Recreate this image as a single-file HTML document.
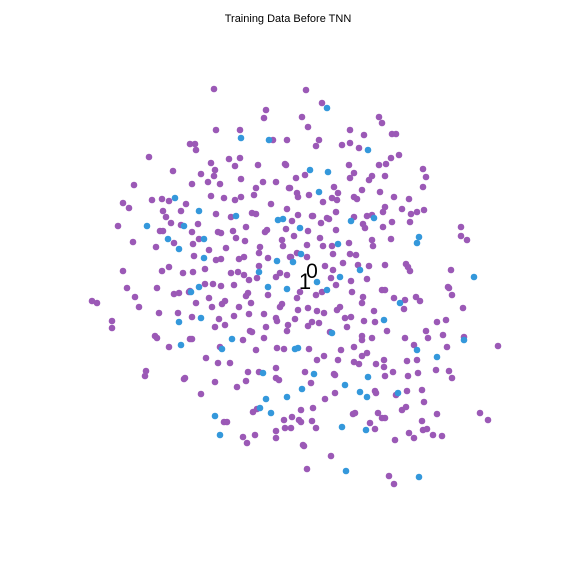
<!DOCTYPE html>
<html><head><meta charset="utf-8"><style>
html,body{margin:0;padding:0;background:#fff;}
svg{display:block;font-family:"Liberation Sans",sans-serif;}
</style></head><body>
<svg id="chart" width="576" height="576" viewBox="0 0 576 576" xmlns="http://www.w3.org/2000/svg">
<text x="288" y="22" text-anchor="middle" font-size="11" fill="#000">Training Data Before TNN</text>
<g id="points"></g>
<text x="312" y="278" text-anchor="middle" font-size="21" fill="#000">0</text>
<text x="305" y="289" text-anchor="middle" font-size="22" fill="#000">1</text>
</svg>
<script>
// class 1 (purple) points: x and y in embedding units
const purpleX = [214,266,264,216,240,273,287,190,195,196,149,211,229,240,235,258,285,173,215,201,214,134,192,208,220,241,263,276,289,256,123,129,152,162,169,186,211,224,235,241,254,271,287,163,181,216,252,256,118,166,171,181,198,231,246,286,160,163,192,218,221,233,265,267,282,133,174,199,236,245,193,156,209,226,260,283,194,216,221,239,244,259,268,290,123,162,169,183,193,205,231,238,259,244,249,257,276,280,287,127,157,190,205,213,221,234,174,179,189,246,248,268,92,97,135,139,196,209,212,222,225,239,251,280,282,112,112,159,178,192,219,215,225,234,249,264,276,277,266,250,252,287,155,157,169,190,192,243,264,220,256,277,284,206,218,230,146,145,184,185,215,248,259,276,276,279,246,237,201,253,257,224,227,284,291,243,255,247,276,276,306,322,302,308,379,382,350,364,392,396,319,316,342,350,359,391,399,286,349,386,379,305,296,354,350,372,369,385,423,426,423,290,297,298,309,334,338,362,380,323,332,337,354,357,394,409,298,312,313,321,327,329,336,354,367,372,363,365,383,385,402,411,417,424,410,392,383,292,308,336,461,461,467,294,320,372,373,391,307,323,332,349,291,297,307,333,350,356,343,325,333,358,369,385,406,408,410,451,331,351,367,336,448,300,297,316,322,352,363,382,385,394,405,416,420,449,452,463,298,308,317,324,337,340,362,374,404,426,288,295,308,312,319,345,351,364,375,437,446,464,330,347,362,362,372,387,405,414,428,443,447,498,309,341,354,367,362,407,417,317,324,338,354,359,376,384,384,393,436,449,452,311,305,334,335,385,408,418,422,325,335,375,376,396,407,424,313,301,353,355,378,402,406,437,480,488,285,292,299,301,312,316,370,375,382,385,422,423,427,433,442,409,414,395,303,304,331,307,389,394,392];
const purpleY = [89,110,118,130,130,140,140,144,144,150,157,163,159,158,166,165,164,171,170,174,176,185,184,182,184,179,182,182,188,188,203,208,200,199,201,204,196,198,200,197,195,204,209,211,211,214,213,214,226,217,223,225,224,217,227,229,231,231,232,232,233,231,232,230,240,242,243,239,238,241,244,247,250,248,247,246,256,260,259,259,257,253,258,257,271,271,267,273,272,269,273,272,266,275,280,278,277,273,275,288,288,291,284,284,286,285,294,293,292,296,293,295,301,303,297,307,303,298,307,304,301,307,303,307,304,321,328,313,313,317,319,327,325,316,314,314,318,321,327,331,332,331,336,338,347,339,339,340,338,347,350,348,349,358,363,363,371,376,379,378,382,372,372,368,378,380,381,387,394,412,409,422,422,420,428,437,435,443,431,438,90,103,117,127,117,123,130,135,134,134,140,146,145,143,148,158,155,165,165,164,165,175,178,173,178,176,180,176,169,177,187,188,193,197,195,187,193,190,192,202,198,200,197,199,197,199,215,216,216,223,218,219,212,217,216,215,224,228,212,207,209,214,212,210,222,222,227,221,231,230,227,236,240,236,238,240,246,239,245,246,246,243,257,253,257,254,254,255,263,266,270,265,266,265,264,267,271,270,278,281,279,285,287,292,298,295,292,292,297,290,290,298,300,297,301,288,295,308,310,308,311,313,310,307,303,311,309,331,325,319,326,322,323,318,317,321,322,322,320,337,332,327,336,340,338,331,338,345,338,335,347,346,349,350,347,353,356,361,360,360,356,360,362,364,364,360,367,372,370,371,378,383,372,374,375,376,376,373,390,399,393,391,393,395,391,402,408,410,414,413,413,410,407,414,413,420,428,417,420,422,421,428,423,429,418,418,421,430,429,435,436,433,438,440,445,446,456,469,476,484];
// class 0 (blue) points
const blueX = [241,269,175,199,147,184,236,278,283,168,204,179,204,277,259,199,268,287,191,179,201,181,232,222,263,266,287,260,271,215,220,327,368,310,328,319,351,374,300,419,417,338,301,293,360,474,340,317,327,400,332,384,464,295,298,417,437,314,302,368,345,360,367,398,342,366,346,419];
const blueY = [138,140,198,211,226,226,216,220,219,239,239,249,258,261,272,287,287,289,292,322,318,345,339,349,373,399,397,408,413,416,435,108,150,170,172,192,221,218,228,237,243,244,254,262,270,277,277,282,290,303,333,320,340,349,348,350,357,374,389,377,385,392,397,393,427,430,471,477];
const xDomain = [0, 576], yDomain = [0, 576];
function xScale(v){ return (v - xDomain[0]) / (xDomain[1] - xDomain[0]) * 576; }
function yScale(v){ return (v - yDomain[0]) / (yDomain[1] - yDomain[0]) * 576; }
const layer = document.getElementById('points');
const NS = 'http://www.w3.org/2000/svg';
function drawSeries(xs, ys, color, name){
  const n = Math.min(xs.length, ys.length);
  for (let i = 0; i < n; i++){
    const c = document.createElementNS(NS, 'circle');
    c.setAttribute('cx', xScale(xs[i]));
    c.setAttribute('cy', yScale(ys[i]));
    c.setAttribute('r', 3.3);
    c.setAttribute('fill', color);
    
    
    layer.appendChild(c);
  }
}
drawSeries(purpleX, purpleY, '#9b59b6', 'point-class-1');
drawSeries(blueX, blueY, '#3498db', 'point-class-0');
</script>
</body></html>
